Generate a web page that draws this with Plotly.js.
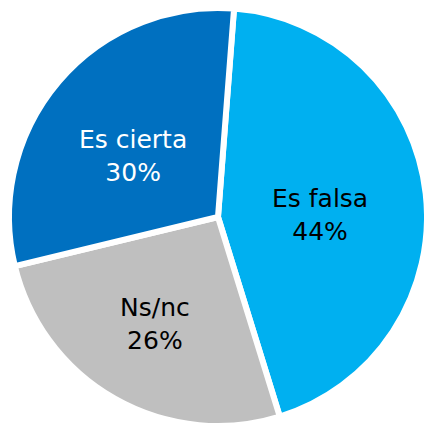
<!DOCTYPE html>
<html>
<head>
<meta charset="utf-8">
<script src="https://cdn.plot.ly/plotly-3.0.1.min.js"></script>
<style>html,body{margin:0;padding:0;background:#fff;overflow:hidden;}#chart{width:427px;height:426px;}</style>
</head>
<body>
<div id="chart"></div>
<script>
const labels = ["Es falsa", "Ns/nc", "Es cierta"];
const values = [44, 26, 30];
const colors = ["#00B0F0", "#BFBFBF", "#0070C0"];
const textColors = ["#000000", "#000000", "#FFFFFF"];
// label anchor positions (paper fraction) for each slice
const labelX = [0.744, 0.349, 0.296];
const labelY = [0.505, 0.243, 0.647];

const annotations = labels.map((lab, i) => ({
  xref: "paper", yref: "paper",
  x: labelX[i], y: labelY[i],
  xanchor: "center", yanchor: "middle",
  showarrow: false,
  text: lab + "<br>" + values[i] + "%",
  font: {family: "DejaVu Sans", size: 25, color: textColors[i]}
}));

Plotly.newPlot("chart", [{
  type: "pie",
  labels: labels,
  values: values,
  sort: false,
  direction: "clockwise",
  rotation: 4.4,
  marker: {colors: colors, line: {color: "#FFFFFF", width: 6}},
  textinfo: "none",
  hoverinfo: "none"
}], {
  width: 427, height: 426,
  margin: {l: 9, t: 8, r: 0, b: 0},
  showlegend: false,
  annotations: annotations,
  paper_bgcolor: "#FFFFFF",
  plot_bgcolor: "#FFFFFF"
}, {displayModeBar: false, staticPlot: true});
</script>
</body>
</html>
